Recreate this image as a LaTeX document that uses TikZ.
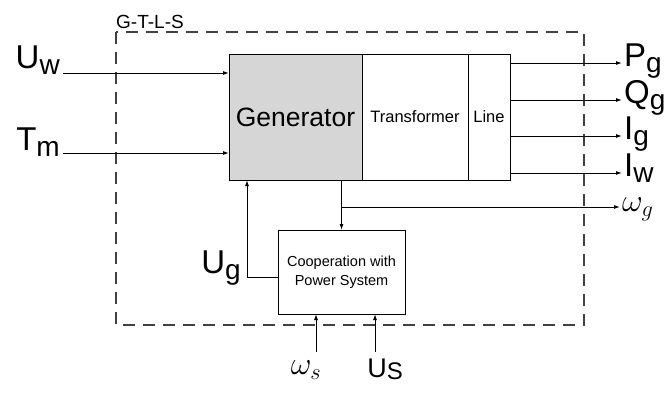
\documentclass[tikz,border=0pt]{standalone}
\usepackage{fix-cm}
\usepackage{fontspec}
\setmainfont{Liberation Sans}
\usetikzlibrary{arrows.meta,positioning}

\newcommand{\sig}[2]{{\fontsize{33}{33}\selectfont #1}{\fontsize{28}{28}\selectfont\raisebox{-6pt}{#2}}}
\newcommand{\sigsm}[2]{{\fontsize{27}{27}\selectfont #1}{\fontsize{24}{24}\selectfont\raisebox{-2pt}{#2}}}

\begin{document}
\begin{tikzpicture}[
    x=1pt, y=-1pt,
    block/.style={draw, line width=1pt, minimum height=126pt, inner sep=0pt, outer sep=0pt, font=\fontsize{16.5}{18}\selectfont},
    sigline/.style={-{Latex[length=6pt,width=4pt]}, line width=1pt},
    lbl/.style={inner sep=0pt}
]
\useasboundingbox (0,0) rectangle (668,392);
% system border
\draw[dash pattern=on 12pt off 8pt, line width=1.1pt, black!75] (116,32) rectangle (584,325);
\node[lbl, anchor=base west, font=\fontsize{19}{19}\selectfont] (gtls) at (116,28) {G-T-L-S};

\node[block, fill=black!16, minimum width=133pt, font=\fontsize{26.5}{26}\selectfont] (gen) at (295.5,117) {Generator};
\node[block, minimum width=106pt, right=0pt of gen] (trans) {Transformer};
\node[block, minimum width=42pt, right=0pt of trans] (line) {Line};
\node[block, minimum width=127pt, minimum height=84pt, align=center, font=\fontsize{14.5}{19}\selectfont] (coop) at (341.5,272) {Cooperation with\\Power System};

% inputs
\node[lbl, anchor=base east] (uwl) at (60,68) {\sig{U}{w}};
\node[lbl, anchor=base east] (tml) at (60,150) {\sig{T}{m}};
\coordinate (uw) at (63,73);
\coordinate (tm) at (63,153);
\draw[sigline] (uw) -- (uw -| gen.west);
\draw[sigline] (tm) -- (tm -| gen.west);

% outputs
\foreach \yy/\m/\s in {63/P/g, 100/Q/g, 136/I/g, 173/I/w} {
    \coordinate (end\m\s) at (622,\yy);
    \node[lbl, anchor=base west] (out\m\s) at (624,\yy+3) {\sig{\m}{\s}};
    \draw[sigline] (end\m\s -| line.east) -- (end\m\s);
}

% speed and feedback
\coordinate (jn) at (coop.north |- 0,207);
\coordinate (wg) at (620,207);
\node[lbl, anchor=west, font=\fontsize{32}{32}\selectfont] (wgl) at (622,209) {$\omega_g$};
\draw[line width=1pt] (coop.north |- gen.south) -- (jn);
\draw[sigline] (jn) -- (coop.north);
\draw[sigline] (jn) -- (wg);

\coordinate (ugx) at (247,277);
\node[lbl, anchor=base east] (ugl) at (241,273) {\sig{U}{g}};
\draw[sigline] (ugx -| coop.west) -- (ugx) -- (ugx |- gen.south);

% system inputs
\coordinate (ws) at (316,352);
\coordinate (us) at (375,352);
\node[lbl, font=\fontsize{32}{32}\selectfont] (wsl) at (306,370) {$\omega_s$};
\node[lbl, anchor=base] (usl) at (385,377) {\sigsm{U}{S}};
\draw[sigline] (ws) -- (ws |- coop.south);
\draw[sigline] (us) -- (us |- coop.south);
\end{tikzpicture}
\end{document}
